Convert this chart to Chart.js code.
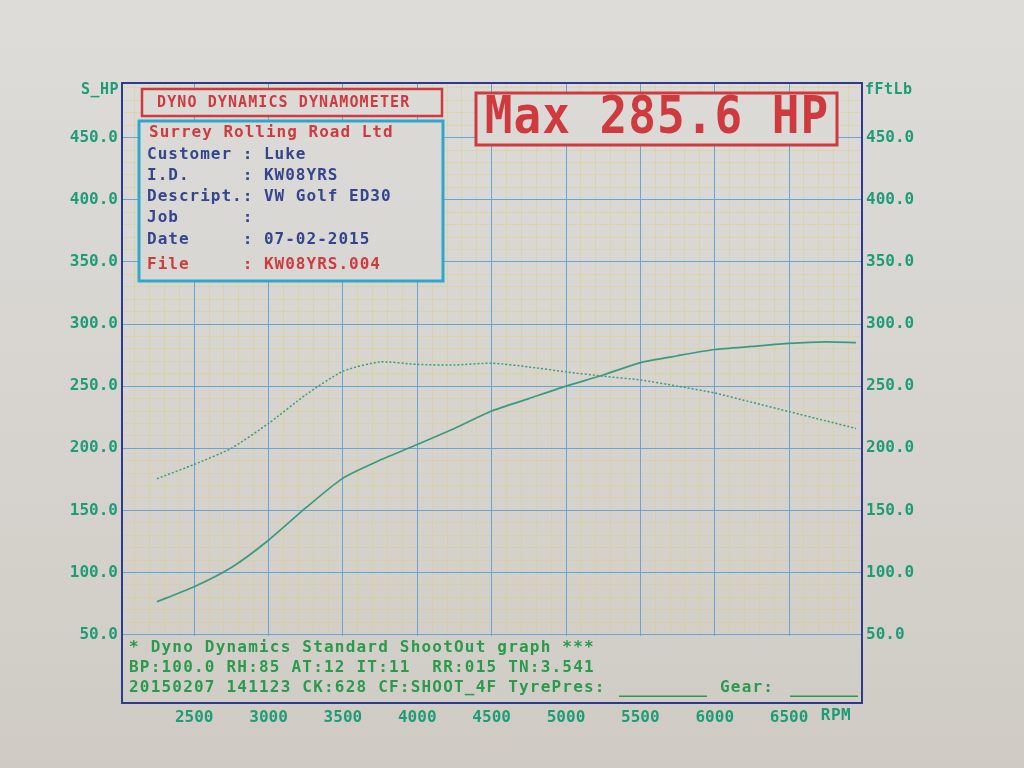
<!DOCTYPE html>
<html lang="en">
<head>
  <meta charset="UTF-8">
  <title>Dyno Dynamics Dynamometer</title>
  <script src="https://cdn.jsdelivr.net/npm/chart.js"></script>
  <style>
    html, body { margin: 0; padding: 0; }
    body { width: 1024px; height: 768px; overflow: hidden; background: linear-gradient(#dddcd9, #d6d3ce 60%, #cfcbc4); }
    canvas { position: absolute; left: 0; top: 0; }
  </style>
</head>
<body>
  <canvas id="dynoChart" width="1024" height="768"></canvas>

  <script>
    // run data
    const rpm    = [2250, 2500, 2750, 3000, 3250, 3500, 3750, 4000, 4250, 4500, 4750, 5000, 5250, 5500, 5750, 6000, 6250, 6500, 6750, 6950];
    const power  = [76.5, 88.5, 104.0, 126.0, 152.0, 176.0, 190.5, 203.0, 216.0, 230.0, 240.0, 250.0, 259.0, 269.0, 274.5, 279.5, 282.0, 284.4, 285.6, 285.0];
    const torque = [175.5, 187.0, 200.0, 220.0, 243.0, 262.0, 269.5, 267.5, 267.0, 268.5, 265.5, 261.5, 258.0, 255.0, 250.0, 244.5, 237.0, 229.5, 222.0, 216.0];

    const yTicks = [50, 100, 150, 200, 250, 300, 350, 400, 450];
    const xTicks = [2500, 3000, 3500, 4000, 4500, 5000, 5500, 6000, 6500];

    const infoLines = [
      ['Customer : Luke', 'blue'],
      ['I.D.     : KW08YRS', 'blue'],
      ['Descript.: VW Golf ED30', 'blue'],
      ['Job      :', 'blue'],
      ['Date     : 07-02-2015', 'blue'],
      ['File     : KW08YRS.004', 'red']
    ];
    const footLines = [
      '* Dyno Dynamics Standard ShootOut graph ***',
      'BP:100.0 RH:85 AT:12 IT:11  RR:015 TN:3.541',
      '20150207 141123 CK:628 CF:SHOOT_4F TyrePres:'
    ];

    const MONO = '"DejaVu Sans Mono", "Liberation Mono", monospace';
    const frameBlue = '#2c3b8f';
    const gridBlue = 'rgb(105, 165, 210)';
    const gridYellow = 'rgba(222, 205, 110, 0.38)';
    const labelGreen = '#1f9c77';
    const curveGreen = '#3a9a80';
    const textGreen = '#2a9a4c';
    const red = '#cf3a3e';
    const blue = '#33458f';
    const cyan = '#2ea7cf';

    const X_MIN = 2015, X_MAX = 6990;
    const Y_MIN = -5, Y_MAX = 494;

    function text(ctx, s, x, y, color, size, spacing, align) {
      ctx.font = 'bold ' + size + 'px ' + MONO;
      ctx.letterSpacing = spacing + 'px';
      ctx.fillStyle = color;
      ctx.textAlign = align || 'left';
      ctx.textBaseline = 'middle';
      ctx.fillText(s, x, y);
    }

    // boxes, captions and frame of the printout
    const sheetPlugin = {
      id: 'sheet',
      afterDraw(chart) {
        const ctx = chart.ctx;
        const a = chart.chartArea;
        const y = chart.scales.y;
        ctx.save();

        // footer panel
        const panelTop = y.getPixelForValue(50) + 1.5;
        ctx.clearRect(a.left, panelTop, a.right - a.left, a.bottom - panelTop);
        footLines.forEach((s, i) => text(ctx, s, a.left + 7, panelTop + 12 + i * 20, textGreen, 16, 1.2));
        ctx.strokeStyle = textGreen;
        ctx.lineWidth = 1.5;
        ctx.beginPath();
        ctx.moveTo(619, panelTop + 60); ctx.lineTo(707, panelTop + 60);
        ctx.moveTo(790, panelTop + 60); ctx.lineTo(a.right - 4, panelTop + 60);
        ctx.stroke();
        text(ctx, 'Gear:', 720, panelTop + 52, textGreen, 16, 1.2);

        // frame
        ctx.strokeStyle = frameBlue;
        ctx.lineWidth = 2;
        ctx.strokeRect(a.left, a.top, a.right - a.left, a.bottom - a.top);

        // header box
        ctx.clearRect(142, 89, 300, 27);
        ctx.strokeStyle = red;
        ctx.lineWidth = 2.5;
        ctx.strokeRect(142, 89, 300, 27);
        text(ctx, 'DYNO DYNAMICS DYNAMOMETER', 157, 103, red, 15, 1.1);

        // info box
        ctx.clearRect(139, 121, 304, 160);
        ctx.strokeStyle = cyan;
        ctx.lineWidth = 3;
        ctx.strokeRect(139, 121, 304, 160);
        text(ctx, 'Surrey Rolling Road Ltd', 149, 133, red, 16, 1.0);
        const rowsY = [155, 176, 197, 218, 240, 265];
        infoLines.forEach((row, i) => text(ctx, row[0], 147, rowsY[i], row[1] === 'red' ? red : blue, 16, 1.0));

        // max box
        ctx.clearRect(476, 93, 361, 52);
        ctx.strokeStyle = red;
        ctx.lineWidth = 3;
        ctx.strokeRect(476, 93, 361, 52);
        ctx.save();
        ctx.translate(657, 120);
        ctx.scale(1, 1.12);
        text(ctx, 'Max ' + Math.max(...power).toFixed(1) + ' HP', 0, 0, red, 46, 1, 'center');
        ctx.restore();

        // axis captions
        text(ctx, 'S_HP', 119, 90, labelGreen, 15, 0.5, 'right');
        text(ctx, 'fFtLb', 865, 90, labelGreen, 15, 0.5);
        text(ctx, 'RPM', 836, 716, labelGreen, 16, 0.5, 'center');

        ctx.restore();
      }
    };

    const tickFont = { family: MONO, size: 16, weight: 'bold' };

    function steps(from, to, step) {
      const out = [];
      for (let v = from; v <= to; v += step) out.push({ value: v });
      return out;
    }

    // invisible axis that only lays the fine yellow grid under the main one
    function minorScale(position, list) {
      const horiz = position === 'bottom';
      return {
        type: 'linear',
        position: position,
        min: horiz ? X_MIN : Y_MIN,
        max: horiz ? X_MAX : Y_MAX,
        z: -1,
        ticks: { display: false, autoSkip: false },
        grid: { drawTicks: false, lineWidth: 1, color: gridYellow },
        border: { display: false },
        afterBuildTicks(s) { s.ticks = list; },
        afterFit(s) { if (horiz) s.height = 0; else s.width = 0; }
      };
    }

    function yScale(position, width, showGrid) {
      return {
        type: 'linear',
        position: position,
        min: Y_MIN,
        max: Y_MAX,
        ticks: {
          autoSkip: false,
          color: labelGreen,
          font: tickFont,
          padding: 4,
          callback: (v) => v.toFixed(1)
        },
        grid: { display: showGrid, drawTicks: false, lineWidth: 1, color: gridBlue },
        border: { display: false },
        afterBuildTicks(s) { s.ticks = yTicks.map((v) => ({ value: v })); },
        afterFit(s) { s.width = width; }
      };
    }

    new Chart(document.getElementById('dynoChart'), {
      type: 'line',
      data: {
        datasets: [
          {
            label: 'S_HP',
            data: rpm.map((r, i) => ({ x: r, y: power[i] })),
            borderColor: curveGreen,
            borderWidth: 1.7,
            pointRadius: 0,
            tension: 0.2,
            yAxisID: 'y'
          },
          {
            label: 'fFtLb',
            data: rpm.map((r, i) => ({ x: r, y: torque[i] })),
            borderColor: curveGreen,
            borderWidth: 1.5,
            borderDash: [2, 2],
            pointRadius: 0,
            tension: 0.2,
            yAxisID: 'y2'
          }
        ]
      },
      options: {
        responsive: false,
        devicePixelRatio: 1,
        animation: false,
        layout: { padding: { top: 83, left: 0, right: 0, bottom: 0 } },
        plugins: {
          legend: { display: false },
          tooltip: { enabled: false }
        },
        scales: {
          xMinor: minorScale('bottom', steps(2100, 6900, 100)),
          yMinor: minorScale('left', steps(0, 490, 10)),
          x: {
            type: 'linear',
            min: X_MIN,
            max: X_MAX,
            ticks: {
              autoSkip: false,
              maxRotation: 0,
              color: labelGreen,
              font: tickFont,
              padding: 5,
              callback: (v) => String(v)
            },
            grid: { drawTicks: false, lineWidth: 1, color: gridBlue },
            border: { display: false },
            afterBuildTicks(s) { s.ticks = xTicks.map((v) => ({ value: v })); },
            afterFit(s) { s.height = 65; }
          },
          y: yScale('left', 122, true),
          y2: yScale('right', 162, false)
        }
      },
      plugins: [sheetPlugin]
    });
  </script>
</body>
</html>
